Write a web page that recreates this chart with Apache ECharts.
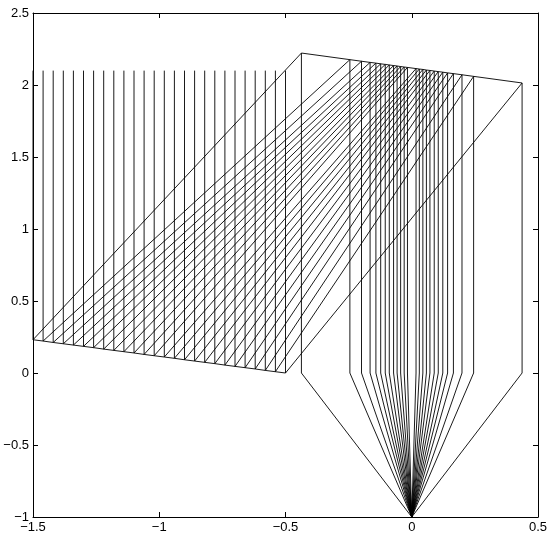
<!DOCTYPE html>
<html>
<head>
<meta charset="utf-8">
<script src="https://cdn.jsdelivr.net/npm/echarts@6/dist/echarts.min.js"></script>
<style>
  html, body { margin: 0; padding: 0; background: #fff; }
  #chart { width: 554px; height: 539px; }
</style>
</head>
<body>
<div id="chart"></div>
<script>
// incoming vertical rays (x where they hit the lower mirror)
const leftX = [-1.50, -1.46, -1.42, -1.38, -1.34, -1.30, -1.26, -1.22, -1.18, -1.14, -1.10, -1.06, -1.02,
  -0.98, -0.94, -0.90, -0.86, -0.82, -0.78, -0.74, -0.70, -0.66, -0.62, -0.58, -0.54, -0.50];
// lower mirror height at those x
const lowY = [0.231, 0.222, 0.212, 0.203, 0.194, 0.185, 0.176, 0.166, 0.157, 0.148, 0.139, 0.129, 0.120,
  0.111, 0.102, 0.092, 0.083, 0.074, 0.065, 0.055, 0.046, 0.037, 0.028, 0.018, 0.009, 0.000];
// x where each ray meets the upper mirror and goes straight down
const exitX = [-0.437, -0.245, -0.199, -0.165, -0.142, -0.123, -0.105, -0.089, -0.072, -0.058, -0.044, -0.030, -0.017,
  0.017, 0.030, 0.044, 0.058, 0.072, 0.089, 0.105, 0.123, 0.142, 0.165, 0.199, 0.245, 0.437];
// upper mirror height at those x
const highY = [2.222, 2.176, 2.165, 2.157, 2.152, 2.147, 2.143, 2.139, 2.135, 2.132, 2.128, 2.125, 2.122,
  2.114, 2.111, 2.108, 2.104, 2.101, 2.097, 2.093, 2.089, 2.084, 2.079, 2.071, 2.060, 2.014];
const startY = 2.1;   // where incoming rays start
const lensY = 0;      // lens plane
const focus = [0, -1];

const xTicks = [-1.5, -1, -0.5, 0, 0.5];
const yTicks = [-1, -0.5, 0, 0.5, 1, 1.5, 2, 2.5];

const chart = echarts.init(document.getElementById('chart'), null, { renderer: 'canvas' });

const fmt = v => String(v).replace('-', '\u2212');
const lineStyle = { color: '#000', width: 0.9 };

const series = [];
leftX.forEach((x, i) => {
  series.push({
    type: 'line',
    symbol: 'none',
    silent: true,
    lineStyle: lineStyle,
    data: [[x, startY], [x, lowY[i]], [exitX[i], highY[i]], [exitX[i], lensY], focus]
  });
});
// mirrors
series.push({
  type: 'line', symbol: 'none', silent: true, lineStyle: lineStyle,
  data: leftX.map((x, i) => [x, lowY[i]])
});
series.push({
  type: 'line', symbol: 'none', silent: true, lineStyle: lineStyle,
  data: exitX.map((x, i) => [x, highY[i]])
});

const axisCommon = {
  axisLine: { show: true, onZero: false, lineStyle: { color: '#000', width: 1 } },
  axisTick: { show: true, inside: true, length: 5, lineStyle: { color: '#000' } },
  splitLine: { show: false }
};
const labelStyle = { color: '#000', fontFamily: 'Liberation Sans, Arial, sans-serif', fontSize: 13 };

chart.setOption({
  animation: false,
  backgroundColor: '#fff',
  grid: { left: 33, right: 16, top: 13, bottom: 22 },
  xAxis: [
    Object.assign({
      type: 'value', min: xTicks[0], max: xTicks[xTicks.length - 1], interval: 0.5, position: 'bottom',
      axisLabel: Object.assign({ margin: 4, formatter: fmt }, labelStyle)
    }, axisCommon),
    Object.assign({
      type: 'value', min: xTicks[0], max: xTicks[xTicks.length - 1], interval: 0.5, position: 'top',
      axisLabel: { show: false }
    }, axisCommon)
  ],
  yAxis: [
    Object.assign({
      type: 'value', min: yTicks[0], max: yTicks[yTicks.length - 1], interval: 0.5, position: 'left',
      axisLabel: Object.assign({ margin: 4, formatter: fmt }, labelStyle)
    }, axisCommon),
    Object.assign({
      type: 'value', min: yTicks[0], max: yTicks[yTicks.length - 1], interval: 0.5, position: 'right',
      axisLabel: { show: false }
    }, axisCommon)
  ],
  series: series
});
</script>
</body>
</html>
